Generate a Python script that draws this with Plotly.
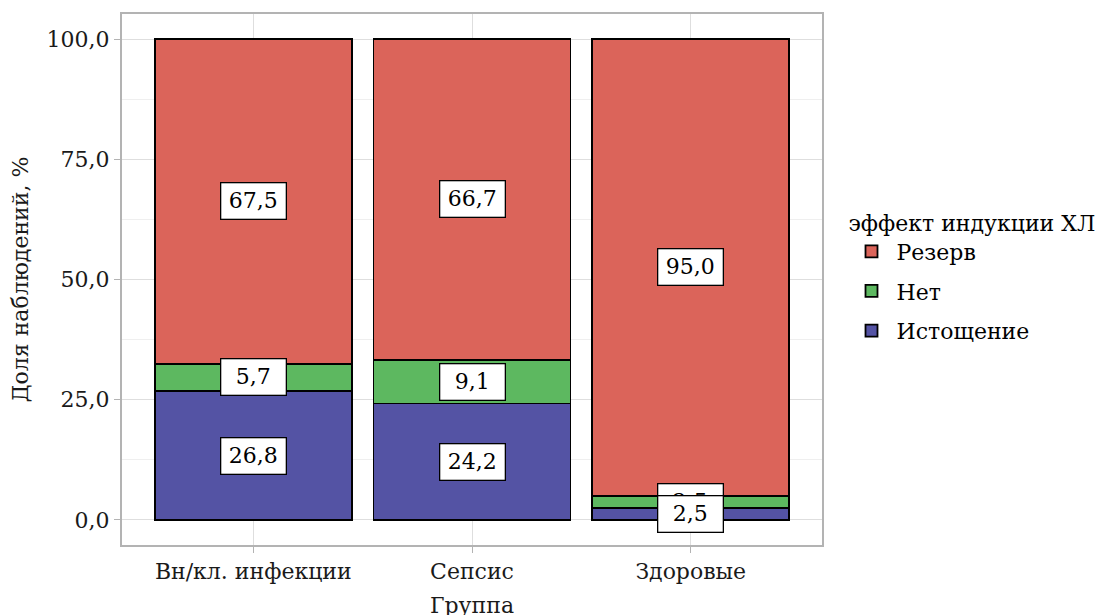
import plotly.graph_objects as go

groups = ["Вн/кл. инфекции", "Сепсис", "Здоровые"]
series_names = ["Истощение", "Нет", "Резерв"]
series_values = {
    "Истощение": [26.8, 24.2, 2.5],
    "Нет": [5.7, 9.1, 2.5],
    "Резерв": [67.5, 66.7, 95.0],
}
legend_rank = {"Резерв": 1, "Нет": 2, "Истощение": 3}
colors = {"Истощение": "#5453A4", "Нет": "#5DB860", "Резерв": "#DB645A"}
y_ticks = [0, 25, 50, 75, 100]
legend_title = "эффект индукции ХЛ"
x_title = "Группа"
y_title = "Доля наблюдений, %"

FONT = "DejaVu Serif"

fig = go.Figure()
for name in series_names:
    fig.add_trace(go.Bar(
        x=groups, y=series_values[name], name=name, legendgroup=name,
        legendrank=legend_rank[name],
        marker=dict(color=colors[name], line=dict(color="black", width=1.8)),
        width=0.9,
    ))

def fmt(v):
    return f"{v:.1f}".replace(".", ",")

annotations = []
cum = [0.0] * len(groups)
centres = {}
for name in series_names:
    vals = series_values[name]
    centres[name] = [c + v / 2 for c, v in zip(cum, vals)]
    cum = [c + v for c, v in zip(cum, vals)]
for name in ["Резерв", "Нет", "Истощение"]:
    for g, v, c in zip(groups, series_values[name], centres[name]):
        annotations.append(dict(
            x=g, y=c, xref="x", yref="y", text=fmt(v), showarrow=False,
            font=dict(family=FONT, size=22, color="black"),
            bgcolor="white", bordercolor="black", borderwidth=1.3, borderpad=4,
            width=56, height=27,
        ))

fig.update_layout(
    width=1110, height=615,
    margin=dict(l=114, r=296, t=6, b=78),
    paper_bgcolor="white", plot_bgcolor="white",
    barmode="stack",
    font=dict(family=FONT, size=22, color="#1a1a1a"),
    annotations=annotations,
    showlegend=True,
    legend=dict(
        title=dict(text=legend_title, font=dict(family=FONT, size=22, color="black")),
        traceorder="grouped",
        x=1.035, xanchor="left", y=0.646, yanchor="top",
        font=dict(family=FONT, size=22, color="black"),
        itemwidth=40,
        tracegroupgap=8,
    ),
)
fig.update_xaxes(
    type="category", range=[-0.6, 2.6], automargin=False,
    showgrid=True, gridcolor="#DEDEDE", gridwidth=1,
    showline=True, linecolor="#B3B3B3", linewidth=2, mirror=True,
    ticks="outside", tickcolor="#B3B3B3", ticklen=6, tickwidth=1,
    tickfont=dict(family=FONT, size=22, color="#1a1a1a"),
    title=dict(text=x_title, font=dict(family=FONT, size=22, color="#1a1a1a"), standoff=14),
)
fig.update_yaxes(
    range=[-5.2, 105.2], automargin=False,
    tickvals=y_ticks, ticktext=[fmt(t) for t in y_ticks],
    showgrid=True, gridcolor="#DEDEDE", gridwidth=1, zeroline=False,
    minor=dict(dtick=12.5, tick0=12.5, showgrid=True, gridcolor="#EFEFEF", gridwidth=1),
    showline=True, linecolor="#B3B3B3", linewidth=2, mirror=True,
    ticks="outside", tickcolor="#B3B3B3", ticklen=6, tickwidth=1,
    tickfont=dict(family=FONT, size=22, color="#1a1a1a"),
    title=dict(text=y_title, font=dict(family=FONT, size=22, color="#1a1a1a"), standoff=17),
)

fig.write_html("out.html")
